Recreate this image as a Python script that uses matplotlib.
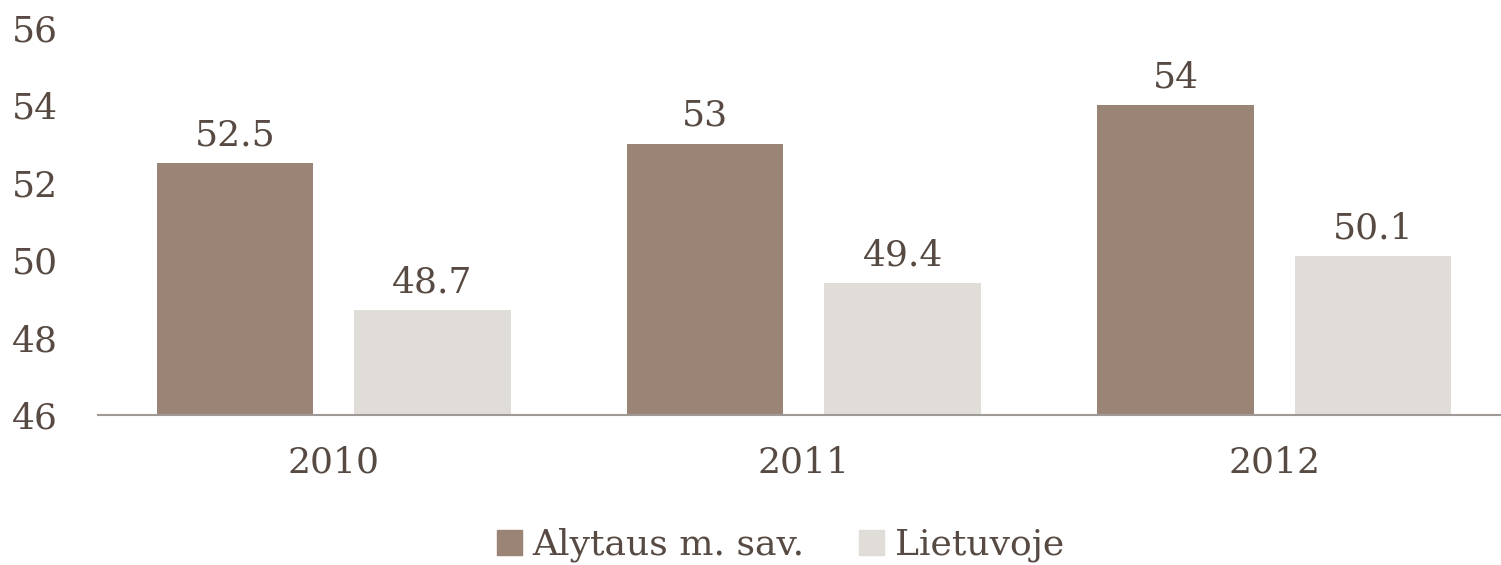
import numpy as np
import matplotlib
matplotlib.use("Agg")
import matplotlib.pyplot as plt
from matplotlib.patches import Patch

years = ["2010", "2011", "2012"]
alytus = [52.5, 53, 54]
lietuva = [48.7, 49.4, 50.1]
alytus_labels = ["52.5", "53", "54"]
lietuva_labels = ["48.7", "49.4", "50.1"]

DARK = "#9a8476"
LIGHT = "#e0dcd8"
TEXT = "#574a42"

plt.rcParams["font.family"] = ["DejaVu Serif"]
plt.rcParams["font.size"] = 26

fig = plt.figure(figsize=(15.01, 5.65), dpi=100)
ax = fig.add_axes([0.0656, 0.2655, 0.940, 0.6855])

x = np.arange(len(years))
w = 0.333
off = 0.21
b1 = ax.bar(x - off, alytus, w, bottom=0, color=DARK)
b2 = ax.bar(x + off, lietuva, w, bottom=0, color=LIGHT)

for bars, labs in ((b1, alytus_labels), (b2, lietuva_labels)):
    for r, lab in zip(bars, labs):
        ax.annotate(lab, (r.get_x() + r.get_width() / 2, r.get_height()),
                    xytext=(0, 8), textcoords="offset points",
                    ha="center", va="bottom", color=TEXT, fontsize=26)

ax.set_ylim(46, 56)
ax.set_xlim(-0.5, 2.5)
ax.set_yticks(range(46, 57, 2))
ax.set_xticks(x)
ax.set_xticklabels(years)
ax.tick_params(axis="both", length=0, colors=TEXT, labelsize=26)
ax.tick_params(axis="x", pad=22)
for lbl in ax.get_yticklabels():
    lbl.set_horizontalalignment("left")
# labels sit flush at the left edge of the figure
ax.yaxis.set_tick_params(pad=62)
for s in ("top", "right", "left"):
    ax.spines[s].set_visible(False)
ax.spines["bottom"].set_color("#a09a96")
ax.spines["bottom"].set_linewidth(1.5)

handles = [Patch(color=DARK, label="Alytaus m. sav."),
           Patch(color=LIGHT, label="Lietuvoje")]
fig.legend(handles=handles, loc="center", bbox_to_anchor=(0.52, 0.035),
           ncol=2, frameon=False, fontsize=26, handlelength=0.7,
           handleheight=0.7, handletextpad=0.3, columnspacing=1.5,
           labelcolor=TEXT)

fig.savefig("out.png", dpi=100)
